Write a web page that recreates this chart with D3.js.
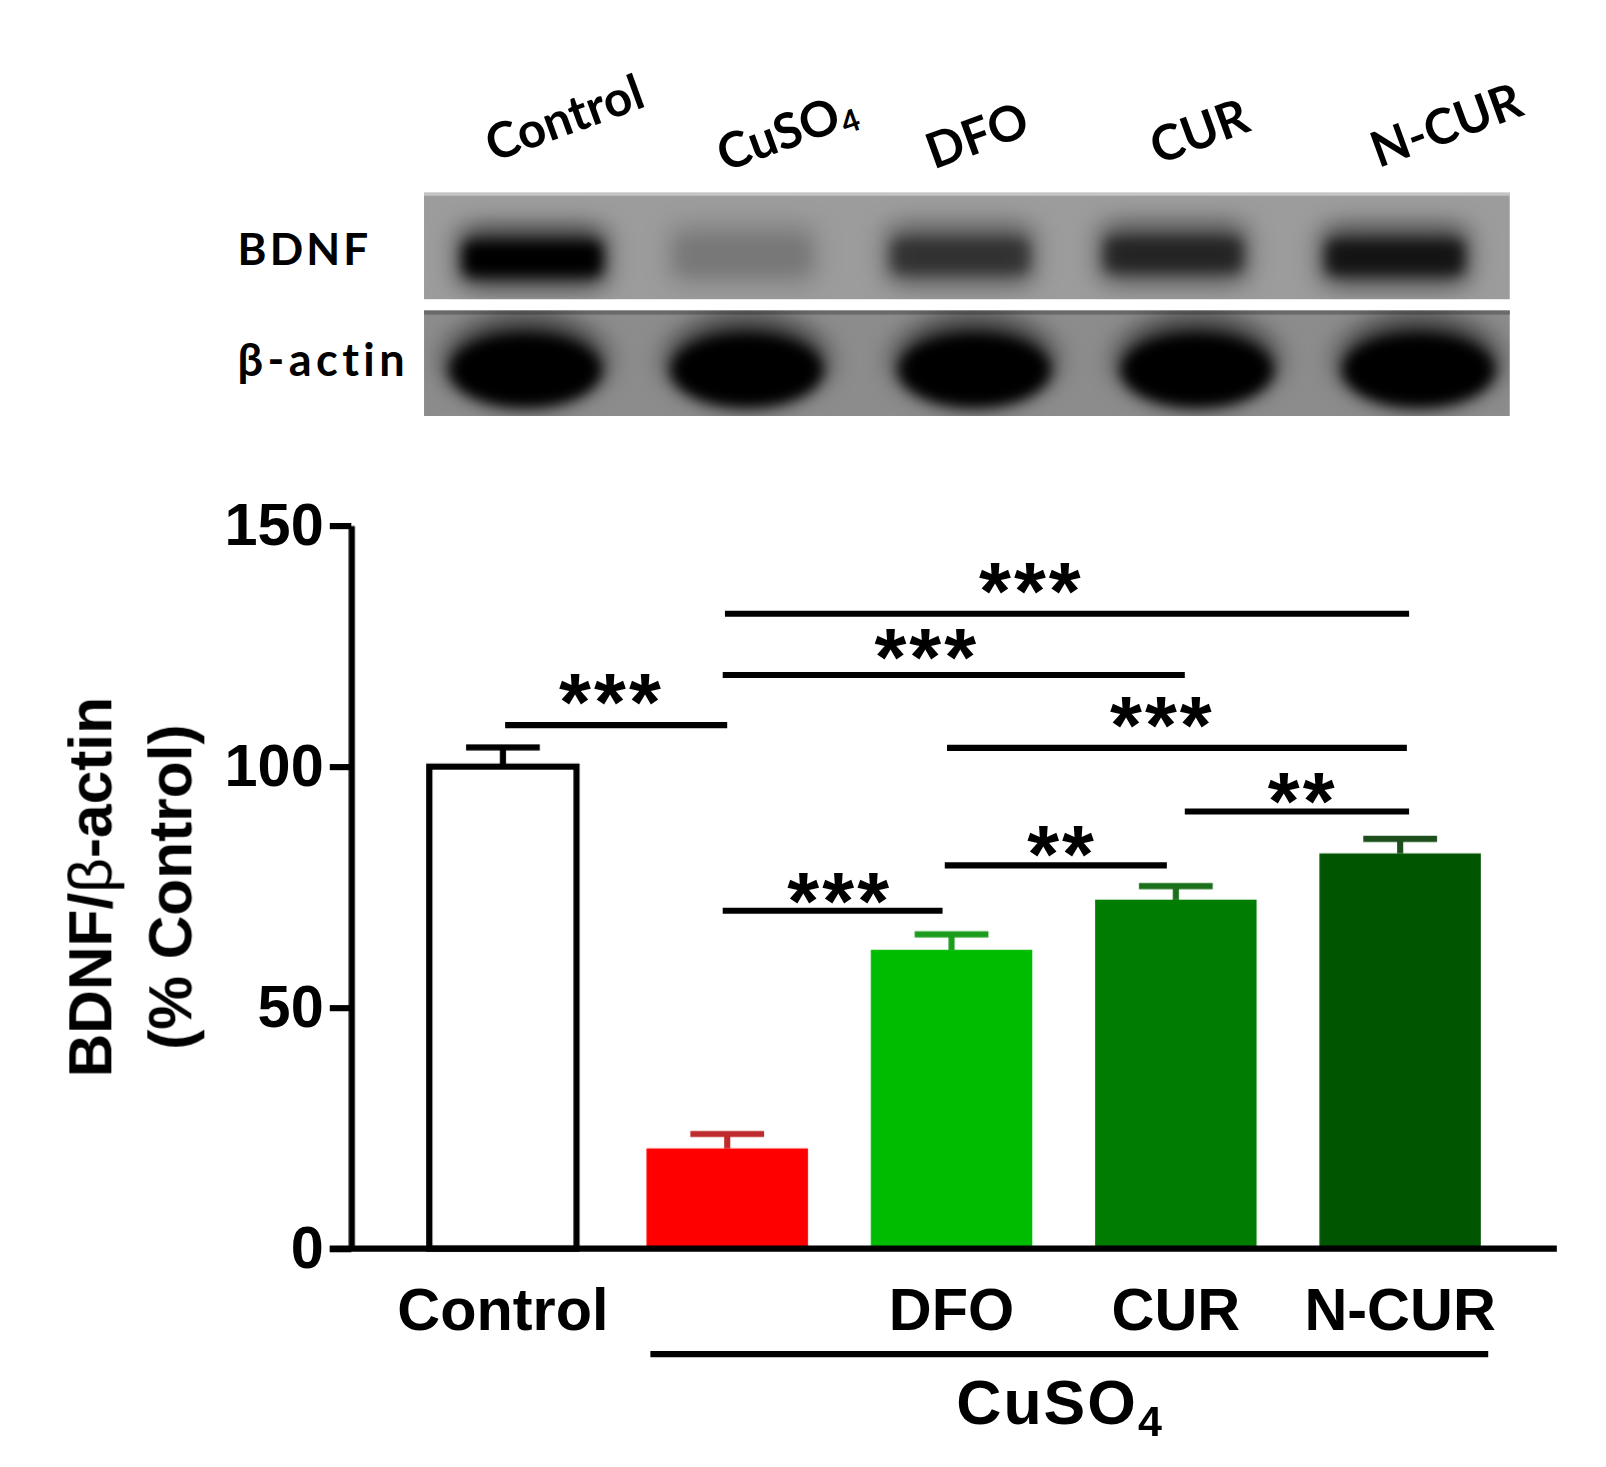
<!DOCTYPE html>
<html>
<head>
<meta charset="utf-8">
<script src="https://cdn.jsdelivr.net/npm/d3@7"></script>
<style>
html, body { margin: 0; padding: 0; background: #fff; }
svg { display: block; }
text { fill: #000; }
</style>
</head>
<body>
<div id="chart-area"></div>
<script>
// chart data
const categories = ["Control", "CuSO4", "DFO", "CUR", "N-CUR"]
const tickLabels = ["Control", "", "DFO", "CUR", "N-CUR"]
const means = [100, 20.8, 62, 72.4, 82]
const errorTops = [104, 23.8, 65.2, 75.2, 85]
const barColors = ["#ffffff", "#fe0000", "#05bc05", "#047d04", "#025502"]
const errColors = ["#000000", "#bf2a2d", "#1f9c1f", "#1c701c", "#1b4f1b"]
const yTicks = [0, 50, 100, 150]

// significance lines: from / to in category units, level in % control
const sigFrom = [0.99, 0.98, 0.01, 1.98, 3.04, 1.97, 0.98]
const sigTo = [4.04, 3.04, 1.0, 4.03, 4.04, 2.96, 1.96]
const sigLevel = [131.7, 119, 108.6, 103.9, 90.7, 79.5, 70.1]
const sigMarks = ["***", "***", "***", "***", "**", "**", "***"]
// where the stars sit, same units
const starPos = [2.356, 1.89, 0.484, 2.94, 3.566, 2.493, 1.502]
const starLevel = [138.7, 125.1, 115.6, 110.9, 95.2, 84.1, 74.4]

// blot band strength, 0 = nothing, 1 = black core
const blotLabels = ["Control", "CuSO", "DFO", "CUR", "N-CUR"]
const bdnfStrength = [1, 0.28, 0.68, 0.76, 0.86]
const bdnfShift = [3, -3, -2, -5, 0]
const actinStrength = [1, 1, 1, 1, 1]
const actinShift = [-4, 1, 12, 18, 23]

// layout is in the units of the 1568 wide picture, the viewBox scales it up
const svg = d3.select("#chart-area").append("svg")
	.attr("width", 1606)
	.attr("height", 1467)
	.attr("viewBox", "0 0 1568 1432")
	.style("font-family", "'Liberation Sans', Arial, sans-serif")

const defs = svg.append("defs")
const addBlur = (id, dev) => defs.append("filter").attr("id", id)
	.attr("x", "-50%").attr("y", "-80%").attr("width", "200%").attr("height", "260%")
	.append("feGaussianBlur").attr("stdDeviation", dev)
addBlur("soft", "13 11")
addBlur("soft3", "7 6")
defs.append("filter").attr("id", "edge").append("feGaussianBlur").attr("stdDeviation", 0.6)
defs.append("clipPath").attr("id", "clip-bdnf").append("rect")
	.attr("x", 414).attr("y", 188).attr("width", 1060).attr("height", 104)
defs.append("clipPath").attr("id", "clip-actin").append("rect")
	.attr("x", 414).attr("y", 303).attr("width", 1060).attr("height", 103)

/******************************** Blot ********************************/

const lane = d3.scalePoint().domain(d3.range(5)).range([517, 1362])
const blot = svg.append("g")

blot.append("rect").attr("x", 414).attr("y", 188).attr("width", 1060).attr("height", 104).attr("fill", "#9c9c9c")
blot.append("rect").attr("x", 414).attr("y", 188).attr("width", 1060).attr("height", 3).attr("fill", "#c4c4c4")
blot.append("rect").attr("x", 414).attr("y", 303).attr("width", 1060).attr("height", 103).attr("fill", "#8c8c8c")
blot.append("rect").attr("x", 414).attr("y", 303).attr("width", 1060).attr("height", 4).attr("fill", "#6a6a6a")

const bdnfG = blot.append("g").attr("clip-path", "url(#clip-bdnf)")
// wide smear behind each band, then the core of it
bdnfG.selectAll("rect.halo")
	.data(bdnfStrength).join("rect")
	.attr("class", "halo")
	.attr("x", (d, i) => lane(i) + bdnfShift[i] - 72)
	.attr("y", (d, i) => 218 + bdnfShift[i] / 2)
	.attr("width", 144)
	.attr("height", 62)
	.attr("rx", 14)
	.attr("fill", "#000")
	.attr("fill-opacity", d => d * 0.6)
	.attr("filter", "url(#soft)")
bdnfG.selectAll("rect.core")
	.data(bdnfStrength).join("rect")
	.attr("class", "core")
	.attr("x", (d, i) => lane(i) + bdnfShift[i] - 68)
	.attr("y", (d, i) => 234 + bdnfShift[i] / 2)
	.attr("width", 136)
	.attr("height", 34)
	.attr("rx", 8)
	.attr("fill", "#000")
	.attr("fill-opacity", d => d * d)
	.attr("filter", "url(#soft3)")

const actinG = blot.append("g").attr("clip-path", "url(#clip-actin)")
actinG.selectAll("ellipse.halo")
	.data(actinStrength).join("ellipse")
	.attr("class", "halo")
	.attr("cx", (d, i) => lane(i) + actinShift[i])
	.attr("cy", 352)
	.attr("rx", 80)
	.attr("ry", 46)
	.attr("fill", "#000")
	.attr("fill-opacity", d => d * 0.55)
	.attr("filter", "url(#soft)")
actinG.selectAll("ellipse.core")
	.data(actinStrength).join("ellipse")
	.attr("class", "core")
	.attr("cx", (d, i) => lane(i) + actinShift[i])
	.attr("cy", 361)
	.attr("rx", 74)
	.attr("ry", 36)
	.attr("fill", "#000")
	.attr("fill-opacity", d => d)
	.attr("filter", "url(#soft3)")

const topFont = "Lato, 'Open Sans', sans-serif"
const topLabelX = [551, 768, 954, 1171, 1412]
const topLabelY = [115, 128, 132, 128, 122]
svg.append("g").selectAll("text")
	.data(blotLabels).join("text")
	.attr("transform", (d, i) => `translate(${topLabelX[i]},${topLabelY[i]}) rotate(-20)`)
	.attr("text-anchor", "middle")
	.attr("font-family", topFont)
	.attr("font-weight", 700)
	.attr("font-size", 48)
	.attr("dy", ".35em")
	.each(function (d) {
		d3.select(this).append("tspan").text(d)
		if (d === "CuSO") {
			d3.select(this).append("tspan").attr("font-size", 30).attr("dy", 6).text("4")
		}
	})

svg.append("text").attr("x", 232).attr("y", 259)
	.attr("font-family", topFont).attr("font-weight", 700).attr("font-size", 43)
	.attr("letter-spacing", 3).text("BDNF")
svg.append("text").attr("x", 232).attr("y", 367)
	.attr("font-family", topFont).attr("font-weight", 700).attr("font-size", 44)
	.attr("letter-spacing", 4.3).text("β-actin")

/******************************** Bars ********************************/

const x = d3.scaleBand().domain(categories).range([381.5, 1476.5]).paddingInner(0.28).paddingOuter(0.14)
const y = d3.scaleLinear().domain([0, 150]).range([1219, 513])
// brackets sit at fractional category positions
const xPos = d3.scaleLinear().domain([0, 4]).range([x("Control") + x.bandwidth() / 2, x("N-CUR") + x.bandwidth() / 2])

const g = svg.append("g").attr("filter", "url(#edge)")

const capHalf = 36
const errs = g.append("g").selectAll("g")
	.data(categories).join("g")
	.attr("stroke", (d, i) => errColors[i])
	.attr("stroke-width", 6)
errs.append("line")
	.attr("x1", d => x(d) + x.bandwidth() / 2)
	.attr("x2", d => x(d) + x.bandwidth() / 2)
	.attr("y1", (d, i) => y(means[i]))
	.attr("y2", (d, i) => y(errorTops[i]))
errs.append("line")
	.attr("x1", d => x(d) + x.bandwidth() / 2 - capHalf)
	.attr("x2", d => x(d) + x.bandwidth() / 2 + capHalf)
	.attr("y1", (d, i) => y(errorTops[i]))
	.attr("y2", (d, i) => y(errorTops[i]))

g.append("g").selectAll("rect")
	.data(categories).join("rect")
	.attr("x", (d, i) => i === 0 ? x(d) + 7 : x(d))
	.attr("y", (d, i) => y(means[i]))
	.attr("width", (d, i) => i === 0 ? x.bandwidth() - 14 : x.bandwidth())
	.attr("height", (d, i) => y(0) - y(means[i]))
	.attr("fill", (d, i) => barColors[i])
	.attr("stroke", (d, i) => i === 0 ? "#000" : "none")
	.attr("stroke-width", 6)

// axes
const yAxisCall = d3.axisLeft(y).tickValues(yTicks).tickSize(21).tickSizeOuter(0).tickPadding(6)
const yAxis = g.append("g").attr("transform", "translate(343,0)").call(yAxisCall)
yAxis.select(".domain").attr("stroke", "#000").attr("stroke-width", 6)
yAxis.selectAll(".tick line").attr("stroke", "#000").attr("stroke-width", 6)
yAxis.selectAll(".tick text")
	.attr("font-family", "'Liberation Sans', Arial, sans-serif")
	.attr("font-weight", 700)
	.attr("font-size", 58)
	.attr("fill", "#000")

const xAxisCall = d3.axisBottom(x).tickSize(0).tickPadding(38).tickFormat((d, i) => tickLabels[i])
const xAxis = g.append("g").attr("transform", `translate(0,${y(0)})`).call(xAxisCall)
xAxis.select(".domain").remove()
xAxis.selectAll(".tick text")
	.attr("font-family", "'Liberation Sans', Arial, sans-serif")
	.attr("font-weight", 700)
	.attr("font-size", 58)
	.attr("fill", "#000")
g.append("line")
	.attr("x1", 322).attr("x2", 1520)
	.attr("y1", y(0)).attr("y2", y(0))
	.attr("stroke", "#000").attr("stroke-width", 6)

// significance lines and stars
const sig = g.append("g").selectAll("g").data(sigMarks).join("g")
sig.append("line")
	.attr("x1", (d, i) => xPos(sigFrom[i]))
	.attr("x2", (d, i) => xPos(sigTo[i]))
	.attr("y1", (d, i) => y(sigLevel[i]))
	.attr("y2", (d, i) => y(sigLevel[i]))
	.attr("stroke", "#000")
	.attr("stroke-width", 6)
sig.append("text")
	.attr("x", (d, i) => xPos(starPos[i]))
	.attr("y", (d, i) => y(starLevel[i]) + 38)
	.attr("text-anchor", "middle")
	.attr("font-weight", 700)
	.attr("font-size", 80)
	.attr("letter-spacing", 3)
	.text(d => d)

// group line under the treated bars
g.append("line")
	.attr("x1", 635).attr("x2", 1453)
	.attr("y1", 1322).attr("y2", 1322)
	.attr("stroke", "#000").attr("stroke-width", 6)
const groupLabel = g.append("text")
	.attr("x", 1035).attr("y", 1390)
	.attr("text-anchor", "middle")
	.attr("font-weight", 700)
	.attr("font-size", 61)
	.attr("letter-spacing", 2)
groupLabel.append("tspan").text("CuSO")
groupLabel.append("tspan").attr("font-size", 42).attr("dy", 12).text("4")

// y axis title
const yTitle = g.append("g").attr("transform", "translate(0,866) rotate(-90)")
	.attr("text-anchor", "middle")
	.attr("font-weight", 700)
const titleTop = yTitle.append("text").attr("y", 109).attr("font-size", 59)
titleTop.append("tspan").text("BDNF/")
titleTop.append("tspan").attr("font-weight", 400).text("β")
titleTop.append("tspan").text("-actin")
yTitle.append("text").attr("y", 187).attr("font-size", 59).text("(% Control)")
</script>
</body>
</html>
